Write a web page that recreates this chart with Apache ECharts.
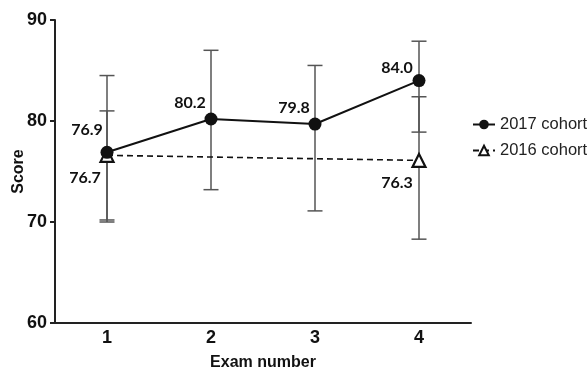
<!DOCTYPE html>
<html><head><meta charset="utf-8">
<script src="https://cdn.jsdelivr.net/npm/echarts@6/dist/echarts.min.js"></script>
<style>html,body{margin:0;padding:0;background:#fff}#c{width:588px;height:372px}</style>
</head><body><div id="c"></div>
<script>
var categories = ['1', '2', '3', '4'];
var yTicks = [60, 70, 80, 90];
var mean2017 = [76.9, 80.2, 79.7, 84.0];
var label2017 = [76.9, 80.2, 79.8, 84.0];
var low2017 = [70.2, 73.2, 71.1, 78.9];
var high2017 = [84.5, 87.0, 85.5, 87.9];
var mean2016 = [76.6, null, null, 76.1];
var label2016 = [76.7, null, null, 76.3];
var low2016 = [70.0, null, null, 68.3];
var high2016 = [81.0, null, null, 82.4];

var off2017 = [[-20, -3], [-21, 3], [-21, 3], [-22, 7]];
var off2016 = [[-22, 43], null, null, [-22, 43]];

var chart = echarts.init(document.getElementById('c'));
var labelFont = {fontFamily: 'Lato', fontWeight: 'bold', fontSize: 16, color: '#111'};

function errData(lo, hi) {
  var d = [];
  for (var i = 0; i < lo.length; i++) if (lo[i] != null) d.push([i, lo[i], hi[i]]);
  return d;
}
function errRender(params, api) {
  var x = api.value(0);
  var a = api.coord([x, api.value(1)]);
  var b = api.coord([x, api.value(2)]);
  var w = 7.5;
  var st = {stroke: '#555', lineWidth: 1.5};
  return {type: 'group', children: [
    {type: 'line', shape: {x1: a[0], y1: a[1], x2: b[0], y2: b[1]}, style: st},
    {type: 'line', shape: {x1: a[0] - w, y1: a[1], x2: a[0] + w, y2: a[1]}, style: st},
    {type: 'line', shape: {x1: b[0] - w, y1: b[1], x2: b[0] + w, y2: b[1]}, style: st}
  ]};
}
function itemData(vals, labels, offs) {
  return vals.map(function (v, i) {
    if (v == null) return null;
    return {value: v, label: Object.assign({show: true, position: 'top', offset: offs[i],
      formatter: labels[i].toFixed(1)}, labelFont)};
  });
}
var tickFont = {fontFamily: 'Liberation Sans', fontWeight: 'bold', fontSize: 18, color: '#111'};
var nameFont = {fontFamily: 'Liberation Sans', fontWeight: 'bold', fontSize: 16, color: '#111'};

chart.setOption({
  animation: false,
  grid: {left: 55, right: 117, top: 20, bottom: 49, containLabel: false, outerBoundsMode: 'none'},
  legend: {
    orient: 'vertical', left: 467, top: 111, itemWidth: 22, itemHeight: 12, itemGap: 9,
    textStyle: {fontFamily: 'Liberation Sans', fontSize: 16.5, color: '#222'},
    data: ['2017 cohort', '2016 cohort']
  },
  xAxis: {
    type: 'category', data: categories, boundaryGap: true,
    name: 'Exam number', nameLocation: 'middle', nameGap: 32, nameMoveOverlap: false,
    nameTextStyle: nameFont,
    axisLine: {lineStyle: {color: '#222', width: 2}},
    axisTick: {alignWithLabel: true, length: 5, lineStyle: {color: '#222', width: 2}},
    axisLabel: Object.assign({margin: 6}, tickFont),
    splitLine: {show: false}
  },
  yAxis: {
    type: 'value', min: yTicks[0], max: yTicks[yTicks.length - 1], interval: 10,
    name: 'Score', nameLocation: 'middle', nameGap: 28, nameRotate: 90, nameMoveOverlap: false,
    nameTextStyle: nameFont,
    axisLine: {show: true, lineStyle: {color: '#222', width: 2}},
    axisTick: {show: true, length: 5, lineStyle: {color: '#222', width: 2}},
    axisLabel: Object.assign({margin: 8}, tickFont),
    splitLine: {show: false}
  },
  series: [
    {type: 'custom', name: 'err2017', data: errData(low2017, high2017), renderItem: errRender, z: 1, silent: true},
    {type: 'custom', name: 'err2016', data: errData(low2016, high2016), renderItem: errRender, z: 1, silent: true},
    {
      type: 'line', name: '2016 cohort', data: itemData(mean2016, label2016, off2016), connectNulls: true,
      symbol: 'triangle', symbolSize: 13, showAllSymbol: true,
      lineStyle: {color: '#111', width: 1.6, type: [6, 4]},
      itemStyle: {color: '#fff', borderColor: '#111', borderWidth: 2.2}, z: 3
    },
    {
      type: 'line', name: '2017 cohort', data: itemData(mean2017, label2017, off2017),
      symbol: 'circle', symbolSize: 13, showAllSymbol: true,
      lineStyle: {color: '#111', width: 2},
      itemStyle: {color: '#111'}, z: 4
    }
  ]
});
</script></body></html>
